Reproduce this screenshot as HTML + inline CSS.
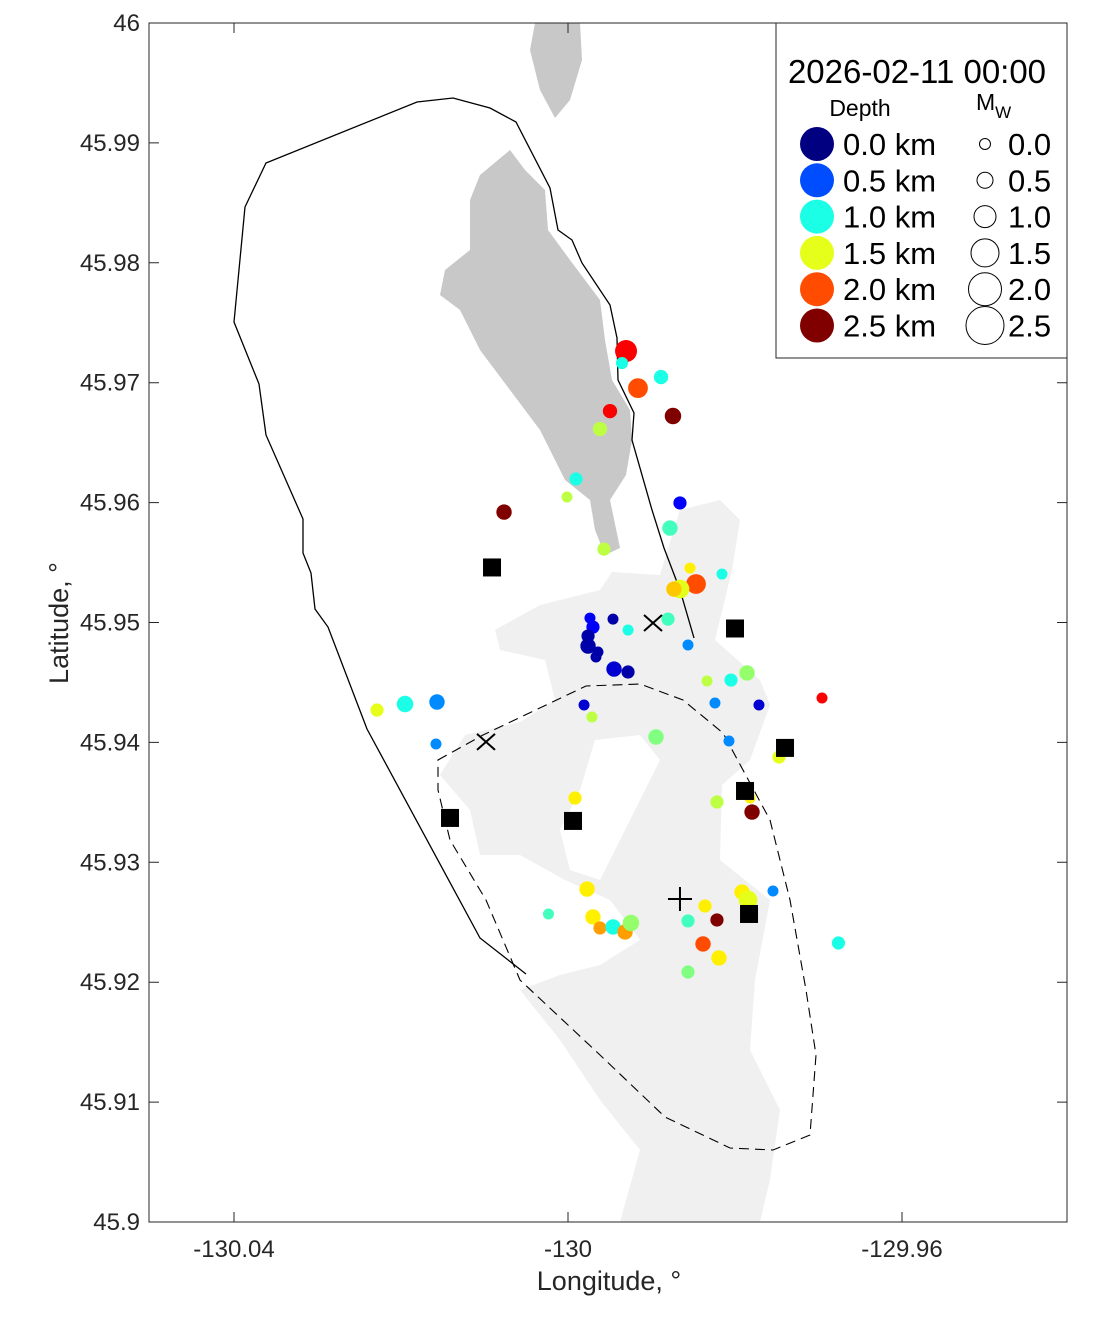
<!DOCTYPE html>
<html><head><meta charset="utf-8"><style>
body{margin:0;background:#fff;}
svg{display:block;font-family:"Liberation Sans",sans-serif;}
</style></head><body>
<svg id="chart" width="1111" height="1324" viewBox="0 0 1111 1324">
<g id="land">
<path fill="#f0f0f0" d="M495,630 L540,605 L600,590 L612,572 L660,575 L680,510 L720,500 L740,520 L732,570 L715,640 L760,680 L770,705 L750,760 L722,785 L720,860 L770,900 L755,980 L750,1050 L780,1110 L770,1180 L760,1222 L620,1222 L640,1150 L600,1100 L560,1040 L520,990 L560,975 L600,965 L640,940 L610,900 L565,880 L520,855 L480,855 L470,810 L440,775 L465,735 L520,722 L555,700 L545,660 L500,650 Z"/>
<path fill="#ffffff" d="M595,740 L640,735 L660,760 L640,800 L620,840 L600,880 L570,870 L560,830 L580,790 Z"/>
<path fill="#c8c8c8" d="M535,23 L580,23 L582,60 L570,100 L555,118 L540,90 L530,50 Z"/>
<path fill="#c8c8c8" d="M480,175 L510,150 L525,170 L545,190 L548,230 L570,260 L600,300 L605,340 L612,380 L630,410 L632,440 L626,475 L610,500 L620,548 L605,555 L595,530 L590,500 L565,480 L540,430 L510,390 L480,350 L460,310 L440,295 L445,270 L470,250 L470,200 Z"/>
</g>
<g><path fill="none" stroke="#000" stroke-width="1.3" d="M526,974 L480,938 L367,729 L328,627 L315,609 L311,573 L303,553 L303,519 L266,435 L259,384 L234,322 L245,207 L266,163 L417,102 L453,98 L490,108 L516,122 L550,188 L558,230 L572,240 L582,263 L610,305 L617,338 L618,380 L634,413 L632,440 L652,510 L664,548 L680,590 L694,638"/></g>
<g><path fill="none" stroke="#000" stroke-width="1.1" stroke-dasharray="10,6" d="M438,760 L483,735 L586,686 L640,684 L683,700 L723,733 L770,820 L790,900 L806,990 L816,1055 L810,1135 L773,1150 L730,1148 L665,1117 L600,1055 L520,980 L486,900 L450,840 L438,790 Z"/></g>
<g id="marks"></g>
<g id="stations"></g>
<rect x="149" y="23" width="918" height="1199" fill="none" stroke="#262626" stroke-width="1"/>
<g id="axes"></g>
<text x="609" y="1290" font-size="27" text-anchor="middle" fill="#262626">Longitude, °</text>
<text transform="translate(68,623) rotate(-90)" font-size="27" text-anchor="middle" fill="#262626">Latitude, °</text>
<g id="legend">
<rect x="776" y="23" width="291" height="335" fill="#fff" stroke="#262626" stroke-width="1"/>
<text x="917" y="83" font-size="33" text-anchor="middle">2026-02-11 00:00</text>
<text x="860" y="116" font-size="23" text-anchor="middle">Depth</text>
<text x="976" y="110" font-size="23">M<tspan font-size="17" dy="8">W</tspan></text>
</g>
</svg>
<script>
const lons=[-129.99305,-129.99353,-129.98886,-129.99162,-129.99497,-129.98743,-129.99617,-129.99904,-130.00012,-129.98659,-130.00766,-129.99569,-129.98779,-129.98539,-129.98156,-129.98467,-129.98659,-129.98731,-129.99737,-129.99461,-129.99701,-129.99760,-129.99281,-129.98802,-129.99641,-129.99760,-129.99665,-129.99449,-129.99281,-129.98563,-129.97856,-129.98048,-129.98335,-129.98240,-129.97713,-129.96958,-130.02287,-130.01952,-130.01569,-130.01581,-129.99808,-129.99713,-129.98946,-129.98072,-129.97473,-129.99916,-129.98216,-129.97820,-129.97796,-129.99772,-129.97916,-129.97844,-129.97545,-129.98359,-130.00234,-129.99701,-129.99617,-129.99461,-129.99317,-129.99246,-129.98563,-129.98216,-129.98383,-129.98192,-129.98563,-129.96761];
const lats=[45.97264,45.97164,45.97047,45.96955,45.96763,45.96722,45.96614,45.96197,45.96047,45.95997,45.95921,45.95612,45.95788,45.95454,45.95404,45.95321,45.95279,45.95279,45.95037,45.95028,45.94962,45.94887,45.94937,45.95028,45.94754,45.94804,45.94712,45.94612,45.94587,45.94812,45.94579,45.94520,45.94512,45.94329,45.94312,45.94370,45.94270,45.94320,45.94337,45.93987,45.94312,45.94212,45.94045,45.94012,45.93878,45.93536,45.93503,45.93536,45.93419,45.92777,45.92752,45.92686,45.92761,45.92636,45.92569,45.92544,45.92452,45.92461,45.92419,45.92494,45.92511,45.92519,45.92319,45.92202,45.92085,45.92327];
const depths=[2.2,1.0,1.0,2.0,2.2,2.5,1.4,1.0,1.4,0.3,2.5,1.4,1.1,1.6,1.0,2.0,1.5,1.7,0.3,0.1,0.3,0.1,1.0,1.1,0.1,0.1,0.1,0.2,0.1,0.65,1.3,1.0,1.4,0.65,0.2,2.2,1.5,1.0,0.65,0.65,0.2,1.4,1.25,0.65,1.5,1.6,1.4,1.6,2.5,1.6,1.6,1.5,0.65,1.6,1.1,1.6,1.8,1.0,1.8,1.3,1.1,2.5,2.0,1.6,1.25,1.0];
const mags=[1.0,0.1,0.3,0.8,0.3,0.5,0.3,0.2,0.0,0.2,0.4,0.2,0.4,0.0,0.0,0.8,0.7,0.4,0.0,0.0,0.2,0.2,0.0,0.2,0.0,0.4,0.0,0.4,0.2,0.0,0.4,0.2,0.0,0.0,0.0,0.0,0.2,0.5,0.4,0.0,0.0,0.0,0.4,0.0,0.2,0.2,0.2,0.0,0.4,0.4,0.4,0.7,0.0,0.2,0.0,0.4,0.2,0.4,0.4,0.5,0.2,0.2,0.4,0.4,0.2,0.2];
const stationLons=[-130.00910,-129.98000,-129.97401,-129.97880,-130.01413,-129.99940,-129.97832];
const stationLats=[45.95459,45.94950,45.93954,45.93595,45.93370,45.93345,45.92569];
const crossLons=[-129.98982,-130.00982];
const crossLats=[45.94996,45.94004];
const plusLons=[-129.98659];
const plusLats=[45.92694];
const xTicks=[-130.04,-130,-129.96];
const xTickLabels=["-130.04","-130","-129.96"];
const yTicks=[45.9,45.91,45.92,45.93,45.94,45.95,45.96,45.97,45.98,45.99,46];
const yTickLabels=["45.9","45.91","45.92","45.93","45.94","45.95","45.96","45.97","45.98","45.99","46"];
const legendDepths=[0,0.5,1,1.5,2,2.5];
const legendMags=[0,0.5,1,1.5,2,2.5];

const NS='http://www.w3.org/2000/svg';
const xS=v=>568+(v+130)*8350;
const yS=v=>23+(46-v)*11990;
const rS=m=>5.5+5.5*m;
function jet(d){const t=Math.max(0,Math.min(1,d/2.5));const c=x=>Math.round(255*Math.max(0,Math.min(1,1.5-Math.abs(4*t-x))));return `rgb(${c(3)},${c(2)},${c(1)})`;}
function mk(tag,attrs,parent){const e=document.createElementNS(NS,tag);for(const k in attrs)e.setAttribute(k,attrs[k]);parent.appendChild(e);return e;}
const marks=document.getElementById('marks');
lons.forEach((lo,i)=>{const c=mk('circle',{cx:xS(lo),cy:yS(lats[i]),r:rS(mags[i]),fill:jet(depths[i])},marks);

});
const st=document.getElementById('stations');
stationLons.forEach((lo,i)=>{const r=mk('rect',{x:xS(lo)-9,y:yS(stationLats[i])-9,width:18,height:18,fill:'#000'},st);

});
crossLons.forEach((lo,i)=>{const x=xS(lo),y=yS(crossLats[i]);const p=mk('path',{d:`M${x-9},${y-8}L${x+9},${y+8}M${x-9},${y+8}L${x+9},${y-8}`,stroke:'#000','stroke-width':2,fill:'none'},st);

});
plusLons.forEach((lo,i)=>{const x=xS(lo),y=yS(plusLats[i]);const p=mk('path',{d:`M${x-12},${y}L${x+12},${y}M${x},${y-12}L${x},${y+12}`,stroke:'#000','stroke-width':2,fill:'none'},st);

});
const ax=document.getElementById('axes');
xTicks.forEach((v,i)=>{const x=xS(v);
const l=mk('path',{d:`M${x},1222V1212M${x},23V33`,stroke:'#262626','stroke-width':1},ax);


const t=mk('text',{x:x,y:1257,'font-size':24,'text-anchor':'middle',fill:'#262626'},ax);t.textContent=xTickLabels[i];

});
yTicks.forEach((v,i)=>{const y=yS(v);
const l=mk('path',{d:`M149,${y}H159M1067,${y}H1057`,stroke:'#262626','stroke-width':1},ax);


const t=mk('text',{x:140,y:y+8,'font-size':24,'text-anchor':'end',fill:'#262626'},ax);t.textContent=yTickLabels[i];

});
const lg=document.getElementById('legend');
legendDepths.forEach((d,i)=>{const y=144+i*36.3;
const c=mk('circle',{cx:817,cy:y,r:17,fill:jet(d)},lg);


const t=mk('text',{x:843,y:y+11,'font-size':31},lg);t.textContent=d.toFixed(1)+' km';

});
legendMags.forEach((m,i)=>{const y=144+i*36.3;
const c=mk('circle',{cx:985,cy:y,r:[5.5,8,11,14,16.5,19][i],fill:'#fff',stroke:'#000','stroke-width':1},lg);


const t=mk('text',{x:1008,y:y+11,'font-size':31},lg);t.textContent=m.toFixed(1);

});
</script>
</body></html>
